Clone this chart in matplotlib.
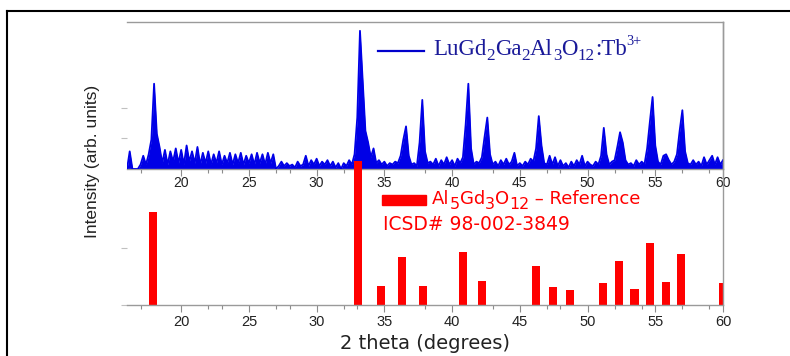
import numpy as np
import matplotlib
matplotlib.use("Agg")
import matplotlib.pyplot as plt
from matplotlib.lines import Line2D
from matplotlib.patches import Rectangle

plt.rcParams['font.family'] = ['Liberation Sans', 'DejaVu Sans']

# ---- measured XRD pattern (LuGd2Ga2Al3O12:Tb3+), 0.2 deg sampling from 16 to 60 deg ----
theta_start, theta_step = 16.0, 0.2
measured_intensity = [
    0, 12, 0, 0, 0, 3, 9, 3, 10, 20,        # 16.0 - 17.8
    58, 24, 15, 4, 13, 3, 12, 5, 14, 4,     # 18.0 - 19.8
    13, 3, 16, 5, 12, 4, 15, 3, 11, 4,      # 20.0 - 21.8
    12, 3, 10, 4, 12, 3, 9, 4, 11, 3,       # 22.0 - 23.8
    10, 4, 11, 3, 9, 4, 10, 3, 11, 4,       # 24.0 - 25.8
    10, 3, 11, 4, 10, 0, 2, 5, 2, 4,        # 26.0 - 27.8
    2, 3, 1, 5, 2, 3, 9, 2, 6, 3,           # 28.0 - 29.8
    7, 2, 5, 3, 6, 2, 5, 1, 4, 0,           # 30.0 - 31.8
    4, 2, 6, 3, 10, 35, 94, 60, 26, 18,     # 32.0 - 33.8
    8, 14, 4, 6, 3, 5, 2, 4, 3, 5,          # 34.0 - 35.8
    4, 9, 20, 29, 9, 3, 4, 2, 18, 47,       # 36.0 - 37.8
    12, 4, 5, 3, 7, 2, 6, 3, 8, 3,          # 38.0 - 39.8
    6, 2, 7, 4, 8, 30, 58, 14, 3, 5,        # 40.0 - 41.8
    4, 8, 22, 35, 10, 3, 5, 2, 6, 3,        # 42.0 - 43.8
    7, 3, 5, 11, 2, 4, 2, 5, 3, 7,          # 44.0 - 45.8
    5, 14, 36, 16, 4, 3, 9, 3, 8, 2,        # 46.0 - 47.8
    6, 2, 4, 1, 5, 2, 6, 3, 9, 2,           # 48.0 - 49.8
    5, 3, 2, 5, 3, 9, 28, 10, 3, 5,         # 50.0 - 51.8
    6, 15, 25, 18, 6, 3, 4, 2, 6, 3,        # 52.0 - 53.8
    5, 3, 14, 32, 49, 16, 5, 3, 9, 10,      # 54.0 - 55.8
    6, 3, 5, 10, 26, 40, 12, 4, 3, 6,       # 56.0 - 57.8
    3, 5, 2, 8, 3, 6, 9, 3, 8, 3,           # 58.0 - 59.8
    6,                                      # 60.0
]
two_theta = theta_start + theta_step * np.arange(len(measured_intensity))

# ---- reference pattern Al5Gd3O12 (ICSD# 98-002-3849) ----
ref_positions = [17.92, 33.07, 34.73, 36.32, 37.85, 40.81, 42.21, 46.18, 47.46,
                 48.72, 51.13, 52.34, 53.47, 54.61, 55.78, 56.89, 60.0]
ref_intensity = [64.8, 100, 13.4, 33.1, 13.4, 37.0, 16.7, 27.1, 12.7,
                 10.4, 15.5, 30.8, 11.1, 43.3, 15.8, 35.2, 15.5]

major_ticks = [20, 25, 30, 35, 40, 45, 50, 55, 60]
minor_ticks = [17, 22, 23, 27, 28, 32, 33, 38, 43, 47, 48, 52, 54, 57, 59]

W, H = 790, 356
fig = plt.figure(figsize=(W / 100, H / 100), dpi=100)
fig.patch.set_facecolor('white')
renderer = fig.canvas.get_renderer()

def fx(x):
    return x / W

def fy(y):
    return 1 - y / H

def rich_text(x_px, y_px, segments, fontsize, color, family,
              sub_scale, sub_drop, sup_scale, sup_rise):
    """Write a formula with sub/superscripts, piece by piece on one baseline."""
    x = fx(x_px)
    em_px = fontsize * 100 / 72.0
    for txt, kind in segments:
        size, dy = fontsize, 0.0
        if kind == 'sub':
            size, dy = fontsize * sub_scale, -sub_drop * em_px
        elif kind == 'sup':
            size, dy = fontsize * sup_scale, sup_rise * em_px
        t = fig.text(x, fy(y_px) + dy / H, txt, ha='left', va='baseline',
                     fontsize=size, color=color, family=family)
        x += t.get_window_extent(renderer).width / W

left, right = 127, 723
top_px, mid_px, bot_px = 22, 169, 305

gray = '#9a9a9a'
tick_gray = '#8c8c8c'
label_col = '#222222'
blue = '#0000e6'

# top (measured) axes
axt = fig.add_axes([fx(left), fy(mid_px), fx(right) - fx(left), fy(top_px) - fy(mid_px)])
axt.set_facecolor('none')
axt.set_zorder(1)
axt.fill_between(two_theta, 0, measured_intensity, color=blue, lw=0, zorder=2)
axt.plot(two_theta, measured_intensity, color=blue, lw=1.3, zorder=3)
axt.set_xlim(16, 60)
axt.set_ylim(0, 100)
axt.spines['left'].set_visible(False)
for s in ['top', 'right', 'bottom']:
    axt.spines[s].set_color(gray)
    axt.spines[s].set_linewidth(1.0)
axt.set_xticks(major_ticks)
axt.set_xticks(minor_ticks, minor=True)
axt.set_yticks([21, 41.5])
axt.set_yticklabels([])
axt.tick_params(axis='x', which='major', length=5, width=0.8, color=tick_gray,
                labelsize=10, labelcolor=label_col, pad=0)
axt.tick_params(axis='x', which='minor', length=3, width=0.8, color=tick_gray)
axt.tick_params(axis='y', length=4, width=0.8, color='#c0c0c0')

# bottom (reference) axes, drawn over the measured pattern
axb = fig.add_axes([fx(left), fy(bot_px), fx(right) - fx(left), fy(top_px) - fy(bot_px)])
axb.set_facecolor('none')
axb.set_zorder(2)
axb.bar(ref_positions, ref_intensity, width=0.62, color='#ff0000', zorder=2)
axb.set_xlim(16, 60)
axb.set_ylim(0, 100 * (bot_px - top_px) / 144.0)
for s in ['top', 'left']:
    axb.spines[s].set_visible(False)
for s in ['bottom', 'right']:
    axb.spines[s].set_color(gray)
    axb.spines[s].set_linewidth(1.0)
axb.set_xticks(major_ticks)
axb.set_xticks(minor_ticks, minor=True)
axb.set_yticks([0, 39.6])
axb.set_yticklabels([])
axb.tick_params(axis='x', which='major', length=5, width=0.8, color=tick_gray,
                labelsize=10.5, labelcolor=label_col, pad=2)
axb.tick_params(axis='x', which='minor', length=3, width=0.8, color=tick_gray)
axb.tick_params(axis='y', length=4, width=0.8, color='#c0c0c0', right=False)
axb.set_xlabel('2 theta (degrees)', fontsize=14, color=label_col, labelpad=4,
               family='DejaVu Sans')

# y label
fig.text(fx(93), fy(161), 'Intensity (arb. units)', rotation=90, ha='center', va='center',
         fontsize=12.5, color=label_col)

# legend of measured pattern
fig.add_artist(Line2D([fx(378), fx(424)], [fy(51), fy(51)], color='#0000cc', lw=1.6))
rich_text(433, 55,
          [('LuGd', 'n'), ('2', 'sub'), ('Ga', 'n'), ('2', 'sub'), ('Al', 'n'),
           ('3', 'sub'), ('O', 'n'), ('12', 'sub'), (':Tb', 'n'), ('3+', 'sup')],
          fontsize=16.5, color='#1a1a99', family='Liberation Serif',
          sub_scale=0.74, sub_drop=0.22, sup_scale=0.62, sup_rise=0.42)

# legend of reference pattern
fig.add_artist(Rectangle((fx(382), fy(205)), fx(426) - fx(382), fy(195) - fy(205),
                         transform=fig.transFigure, color='#ff0000'))
rich_text(432, 204,
          [('Al', 'n'), ('5', 'sub'), ('Gd', 'n'), ('3', 'sub'), ('O', 'n'),
           ('12', 'sub'), (' \u2013 Reference', 'n')],
          fontsize=13, color='#ff0000', family='DejaVu Sans',
          sub_scale=0.88, sub_drop=0.3, sup_scale=0.6, sup_rise=0.4)
fig.text(fx(383), fy(230), 'ICSD# 98-002-3849', ha='left', va='baseline',
         fontsize=13.5, color='#ff0000', family='DejaVu Sans')

# outer black frame (top and left)
fig.add_artist(Line2D([fx(7), fx(790)], [fy(11), fy(11)], color='black', lw=1.5))
fig.add_artist(Line2D([fx(7), fx(7)], [fy(11), fy(356)], color='black', lw=1.5))

fig.savefig('out.png', dpi=100)
